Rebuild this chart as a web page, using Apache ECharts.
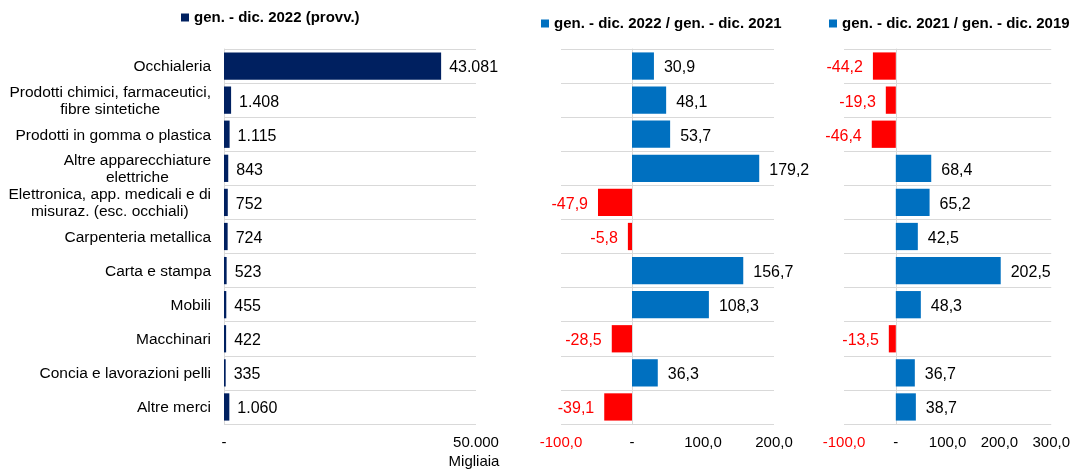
<!DOCTYPE html>
<html>
<head>
<meta charset="utf-8">
<script src="https://cdn.jsdelivr.net/npm/echarts@6/dist/echarts.min.js"></script>
<style>html,body{margin:0;padding:0;background:#fff;}#c{width:1073px;height:469px;}</style>
</head>
<body>
<div id="c"></div>
<script>
const categories = [
  'Occhialeria',
  'Prodotti chimici, farmaceutici,\nfibre sintetiche',
  'Prodotti in gomma o plastica',
  'Altre apparecchiature\nelettriche',
  'Elettronica, app. medicali e di\nmisuraz. (esc. occhiali)',
  'Carpenteria metallica',
  'Carta e stampa',
  'Mobili',
  'Macchinari',
  'Concia e lavorazioni pelli',
  'Altre merci'
];
const seriesNames = [
  'gen. - dic. 2022 (provv.)',
  'gen. - dic. 2022 / gen. - dic. 2021',
  'gen. - dic. 2021 / gen. - dic. 2019'
];
const values2022 = [43081, 1408, 1115, 843, 752, 724, 523, 455, 422, 335, 1060];
const var22_21 = [30.9, 48.1, 53.7, 179.2, -47.9, -5.8, 156.7, 108.3, -28.5, 36.3, -39.1];
const var21_19 = [-44.2, -19.3, -46.4, 68.4, 65.2, 42.5, 202.5, 48.3, -13.5, 36.7, 38.7];
const axis0 = {min: 0, max: 50000, interval: 50000};
const axis1 = {min: -100, max: 200, interval: 100};
const axis2 = {min: -100, max: 300, interval: 100};

const NAVY = '#002060', BLUE = '#0070c0', RED = '#ff0000', GRIDC = '#d9d9d9';
const FONT = 'Liberation Sans, Arial, sans-serif';
const CAT_FS = 15.5, VAL_FS = 16, AX_FS = 15, LEG_FS = 15;

function fmtThousands(v) {
  return String(Math.round(v)).replace(/\B(?=(\d{3})+(?!\d))/g, '.');
}
function fmtDec(v) {
  return v.toFixed(1).replace('.', ',');
}
function axisFmtThousands(v) { return v === 0 ? '-' : fmtThousands(v); }
function axisFmtDec(v) { return v === 0 ? '-' : fmtDec(v); }

function pctData(arr) {
  return arr.map(v => ({
    value: v,
    itemStyle: {color: v < 0 ? RED : BLUE},
    label: {position: v < 0 ? 'left' : 'right', color: v < 0 ? RED : '#000'}
  }));
}

const grids = [
  {left: 224, width: 252, top: 49, height: 375},
  {left: 561, width: 213, top: 49, height: 375},
  {left: 844, width: 210, top: 49, height: 375}
];

function catAxis(i, showLabels) {
  return {
    type: 'category', gridIndex: i, data: categories, inverse: true,
    axisTick: {show: false},
    axisLine: {show: true, onZero: true, lineStyle: {color: GRIDC, width: 1}},
    splitLine: {show: true, lineStyle: {color: GRIDC, width: 1}},
    axisLabel: showLabels ? {
      show: true, margin: 13, fontFamily: FONT, fontSize: CAT_FS, color: '#000',
      lineHeight: 17,
      formatter: function (s) { return s.split('\n').map(l => '{c|' + l + '}').join('\n'); },
      rich: {c: {align: 'center', fontFamily: FONT, fontSize: CAT_FS, lineHeight: 17, color: '#000', padding: [2, 0, 0, 0]}}
    } : {show: false}
  };
}

function valAxis(i, cfg, fmt) {
  return Object.assign({
    type: 'value', gridIndex: i,
    axisLine: {show: false}, axisTick: {show: false}, splitLine: {show: false},
    axisLabel: {
      margin: 11, fontFamily: FONT, fontSize: AX_FS,
      color: function (v) { return Number(v) < 0 ? RED : '#000'; },
      formatter: fmt
    }
  }, cfg);
}

const legendBase = {
  orient: 'horizontal', icon: 'rect', itemWidth: 8, itemHeight: 8, padding: 0, itemGap: 4,
  textStyle: {fontFamily: FONT, fontSize: LEG_FS, fontWeight: 'bold', color: '#000'},
  selectedMode: false
};

const option = {
  animation: false,
  backgroundColor: '#fff',
  legend: [
    Object.assign({}, legendBase, {left: 181, top: 10, data: [{name: seriesNames[0], itemStyle: {color: NAVY}}]}),
    Object.assign({}, legendBase, {left: 541, top: 16, data: [{name: seriesNames[1], itemStyle: {color: BLUE}}]}),
    Object.assign({}, legendBase, {left: 829, top: 16, data: [{name: seriesNames[2], itemStyle: {color: BLUE}}]})
  ],
  grid: grids,
  yAxis: [catAxis(0, true), catAxis(1, false), catAxis(2, false)],
  xAxis: [
    Object.assign(valAxis(0, axis0, axisFmtThousands), {
      name: 'Migliaia', nameLocation: 'end', nameGap: -2,
      nameTextStyle: {fontFamily: FONT, fontSize: AX_FS, color: '#000', align: 'center', verticalAlign: 'top', padding: [30, 0, 0, 0]}
    }),
    valAxis(1, axis1, axisFmtDec),
    valAxis(2, axis2, axisFmtDec)
  ],
  series: [
    {
      name: seriesNames[0], type: 'bar', xAxisIndex: 0, yAxisIndex: 0,
      data: values2022, barCategoryGap: '20%',
      itemStyle: {color: NAVY},
      label: {show: true, position: 'right', distance: 8, offset: [0, 2], fontFamily: FONT, fontSize: VAL_FS, color: '#000',
        formatter: p => fmtThousands(p.value)}
    },
    {
      name: seriesNames[1], type: 'bar', xAxisIndex: 1, yAxisIndex: 1,
      data: pctData(var22_21), barCategoryGap: '20%',
      itemStyle: {color: BLUE},
      label: {show: true, distance: 10, offset: [0, 2], fontFamily: FONT, fontSize: VAL_FS,
        formatter: p => fmtDec(p.value)}
    },
    {
      name: seriesNames[2], type: 'bar', xAxisIndex: 2, yAxisIndex: 2,
      data: pctData(var21_19), barCategoryGap: '20%',
      itemStyle: {color: BLUE},
      label: {show: true, distance: 10, offset: [0, 2], fontFamily: FONT, fontSize: VAL_FS,
        formatter: p => fmtDec(p.value)}
    }
  ]
};

const chart = echarts.init(document.getElementById('c'), null, {renderer: 'canvas'});
chart.setOption(option);
</script>
</body>
</html>
